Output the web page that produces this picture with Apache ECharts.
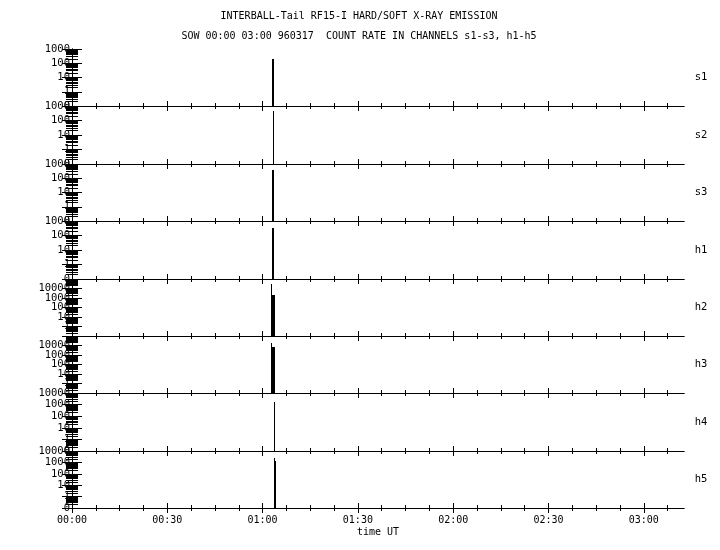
<!DOCTYPE html>
<html>
<head>
<meta charset="utf-8">
<script src="https://cdn.jsdelivr.net/npm/echarts@6/dist/echarts.min.js"></script>
<style>
  html, body { margin: 0; padding: 0; background: #fff; }
  #chart { width: 720px; height: 550px; }
</style>
</head>
<body>
<div id="chart"></div>
<script>
// start of each 20 s sample, seconds after 00:00 UT (all other samples are 0)
const sampleTimes = [3730, 3750, 3770, 3790, 3810, 3830, 3850]
const SAMPLE_SEC = 20
// count rates per channel in those samples
const s1 = [0, 0, 210, 210, 0, 0, 0]
const s2 = [0, 0, 0, 440, 0, 0, 0]
const s3 = [0, 0, 390, 390, 0, 0, 0]
const h1 = [0, 0, 355, 355, 0, 0, 0]
const h2 = [0, 30000, 2100, 2100, 2100, 0, 0]
const h3 = [0, 20000, 6200, 6200, 6200, 0, 0]
const h4 = [0, 0, 0, 0, 1800, 0, 0]
const h5 = [0, 0, 0, 0, 2600, 1350, 0]

const channelNames = ['s1', 's2', 's3', 'h1', 'h2', 'h3', 'h4', 'h5']
const channelData = [s1, s2, s3, h1, h2, h3, h4, h5]

// y tick labels (one band per decade, the lowest band is 0..1)
const yLabels4 = ['0', '1', '10', '100', '1000']
const yLabels5 = ['0', '1', '10', '100', '1000', '10000']
const yLabels6 = ['0', '1', '10', '100', '1000', '10000', '100000']
const channelLabels = [yLabels4, yLabels4, yLabels4, yLabels4, yLabels6, yLabels6, yLabels5, yLabels5]

// x tick labels
const timeTicks = [0, 1800, 3600, 5400, 7200, 9000, 10800]
const timeLabels = ['00:00', '00:30', '01:00', '01:30', '02:00', '02:30', '03:00']
const T_MAX = 11560

const mono = 'DejaVu Sans Mono'

function toBand (v) {
  return v > 0 ? Math.log10(v) + 1 : 0
}

let minorTimeTicks = []
for (let t = 0; t <= T_MAX; t += 450) {
  if (t % 1800 !== 0) minorTimeTicks.push(t)
}

// one black column per sample, from the baseline up to its value
// (snapped to whole pixels so the thin columns stay solid black)
function renderSample (params, api) {
  let t = api.value(0)
  let p0 = api.coord([t, api.value(1)])
  let p1 = api.coord([t + SAMPLE_SEC, 0])
  let x0 = Math.round(p0[0])
  let x1 = Math.max(x0 + 1, Math.round(p1[0]))
  return {
    type: 'rect',
    shape: { x: x0, y: Math.round(p0[1]), width: x1 - x0, height: p1[1] - Math.round(p0[1]) },
    style: { fill: '#000' }
  }
}

let chart = echarts.init(document.getElementById('chart'))

let grids = []
let xAxes = []
let yAxes = []
let series = []
let graphics = []

const topY = 49
const bottomY = 508
const n = channelNames.length

for (let i = 0; i < n; i++) {
  let top = Math.round(topY + i * (bottomY - topY) / n)
  let next = Math.round(topY + (i + 1) * (bottomY - topY) / n)
  grids.push({ left: 72, right: 36, top: top, height: next - top })

  let last = i === n - 1
  let labels = channelLabels[i]
  let max = labels.length - 1
  let minorY = []
  for (let j = 0; j < max; j++) {
    for (let k = 2; k <= 9; k++) minorY.push(j + Math.log10(k))
  }

  // x axes: bottom major, bottom minor, top major, top minor
  let xBase = {
    type: 'value', gridIndex: i, min: 0, max: T_MAX, offset: 0,
    axisLine: { show: true, lineStyle: { color: '#000', width: 1 } },
    splitLine: { show: false },
    axisLabel: { show: false }
  }
  let xi = xAxes.length
  xAxes.push(Object.assign({}, xBase, {
    position: 'bottom',
    axisTick: { show: true, inside: true, length: 5, customValues: timeTicks, lineStyle: { color: '#000' } },
    axisLabel: {
      show: last, customValues: timeTicks, margin: 7,
      color: '#000', fontFamily: mono, fontSize: 10,
      formatter: function (v) { return timeLabels[timeTicks.indexOf(v)] }
    },
    name: last ? 'time UT' : '',
    nameLocation: 'middle',
    nameGap: 19,
    nameTextStyle: { color: '#000', fontFamily: mono, fontSize: 10 }
  }))
  xAxes.push(Object.assign({}, xBase, {
    position: 'bottom',
    axisLine: { show: false },
    axisTick: { show: true, inside: true, length: 3, customValues: minorTimeTicks, lineStyle: { color: '#000' } }
  }))
  xAxes.push(Object.assign({}, xBase, {
    position: 'top',
    axisTick: { show: true, inside: true, length: 5, customValues: timeTicks, lineStyle: { color: '#000' } }
  }))
  xAxes.push(Object.assign({}, xBase, {
    position: 'top',
    axisLine: { show: false },
    axisTick: { show: true, inside: true, length: 3, customValues: minorTimeTicks, lineStyle: { color: '#000' } }
  }))

  // y axes: left major (labels), left minor, right major, right minor
  let yBase = {
    type: 'value', gridIndex: i, min: 0, max: max, interval: 1, offset: 0,
    axisLine: { show: true, lineStyle: { color: '#000', width: 1 } },
    splitLine: { show: false },
    axisLabel: { show: false }
  }
  let yi = yAxes.length
  yAxes.push(Object.assign({}, yBase, {
    position: 'left',
    axisTick: { show: true, inside: true, length: 10, lineStyle: { color: '#000' } },
    axisLabel: {
      show: true, margin: 2, color: '#000', fontFamily: mono, fontSize: 10.5,
      formatter: function (v) { return labels[Math.round(v)] }
    }
  }))
  yAxes.push(Object.assign({}, yBase, {
    position: 'left',
    axisLine: { show: false },
    axisTick: { show: true, inside: true, length: 6, customValues: minorY, lineStyle: { color: '#000' } }
  }))
  yAxes.push(Object.assign({}, yBase, {
    position: 'right',
    axisTick: { show: true, inside: true, length: 10, lineStyle: { color: '#000' } }
  }))
  yAxes.push(Object.assign({}, yBase, {
    position: 'right',
    axisLine: { show: false },
    axisTick: { show: true, inside: true, length: 6, customValues: minorY, lineStyle: { color: '#000' } }
  }))

  let vals = channelData[i]
  series.push({
    type: 'custom',
    name: channelNames[i],
    xAxisIndex: xi,
    yAxisIndex: yi,
    renderItem: renderSample,
    encode: { x: 0, y: 1 },
    data: sampleTimes.map(function (t, k) { return [t, toBand(vals[k])] })
  })

  graphics.push({
    type: 'text',
    x: 701,
    y: (top + next) / 2,
    style: {
      text: channelNames[i], fill: '#000', font: '10.5px "DejaVu Sans Mono"',
      align: 'center', verticalAlign: 'middle'
    }
  })
}

chart.setOption({
  animation: false,
  backgroundColor: '#fff',
  title: [
    {
      text: 'INTERBALL-Tail RF15-I HARD/SOFT X-RAY EMISSION',
      left: 354, top: 6, textAlign: 'center',
      textStyle: { color: '#000', fontFamily: mono, fontSize: 10, fontWeight: 'normal' }
    },
    {
      text: 'SOW 00:00 03:00 960317  COUNT RATE IN CHANNELS s1-s3, h1-h5',
      left: 354, top: 26, textAlign: 'center',
      textStyle: { color: '#000', fontFamily: mono, fontSize: 10, fontWeight: 'normal' }
    }
  ],
  grid: grids,
  xAxis: xAxes,
  yAxis: yAxes,
  series: series,
  graphic: graphics
})
</script>
</body>
</html>
